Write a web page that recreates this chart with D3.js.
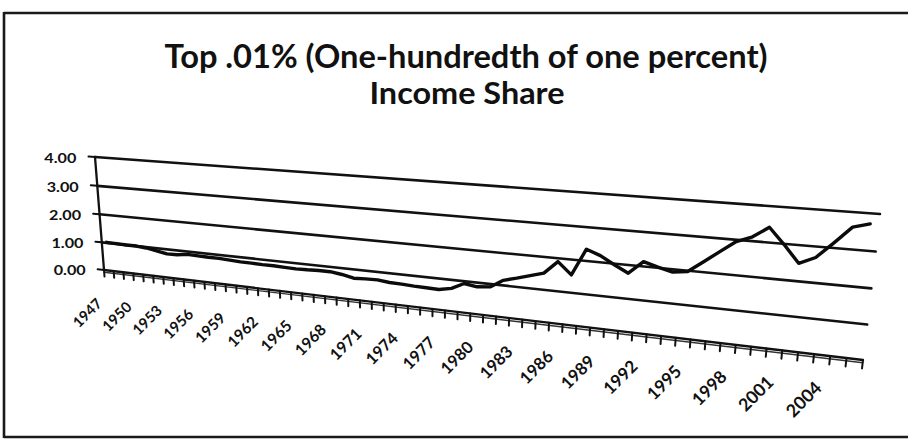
<!DOCTYPE html>
<html>
<head>
<meta charset="utf-8">
<script src="https://cdn.jsdelivr.net/npm/d3@7"></script>
<style>
  html, body { margin: 0; padding: 0; background: #ffffff; }
  svg { display: block; }
  text { font-family: Lato, "Open Sans", "DejaVu Sans", sans-serif; font-weight: 700; fill: #111; }
</style>
</head>
<body>
<svg id="chart" width="908" height="444"></svg>
<script>
// ---- data -------------------------------------------------------------
const years = [
  1947, 1948, 1949, 1950, 1951, 1952, 1953, 1954, 1955, 1956,
  1957, 1958, 1959, 1960, 1961, 1962, 1963, 1964, 1965, 1966,
  1967, 1968, 1969, 1970, 1971, 1972, 1973, 1974, 1975, 1976,
  1977, 1978, 1979, 1980, 1981, 1982, 1983, 1984, 1985, 1986,
  1987, 1988, 1989, 1990, 1991, 1992, 1993, 1994, 1995, 1996,
  1997, 1998, 1999, 2000, 2001, 2002, 2003, 2004, 2005, 2006
];

// income share of the top 0.01%, percent
const shareValues = [
  1.02, 1.01, 1.00, 1.00, 0.97, 0.91, 0.84, 0.85, 0.90, 0.89,
  0.88, 0.88, 0.86, 0.84, 0.84, 0.83, 0.83, 0.82, 0.81, 0.82,
  0.84, 0.84, 0.79, 0.71, 0.73, 0.74, 0.70, 0.69, 0.67, 0.66,
  0.65, 0.73, 0.93, 0.87, 0.91, 1.16, 1.27, 1.39, 1.51, 1.90,
  1.54, 2.35, 2.20, 1.97, 1.76, 2.14, 2.02, 1.92, 1.98, 2.30,
  2.63, 2.95, 3.12, 3.42, 2.98, 2.50, 2.70, 3.14, 3.60, 3.72
];

const yTickValues = [0, 1, 2, 3, 4];
const xLabelYears = [
  1947, 1950, 1953, 1956, 1959, 1962, 1965, 1968, 1971, 1974,
  1977, 1980, 1983, 1986, 1989, 1992, 1995, 1998, 2001, 2004
];
const titleLines = ["Top .01% (One-hundredth of one percent)", "Income Share"];

// ---- page setup ------------------------------------------------------
const svg = d3.select("#chart");
const ink = "#111111";

// The printed plot area is seen at an angle: its four corners on the page.
const plotCorners = {
  bottomLeft: [104, 270],
  bottomRight: [863, 360],
  topRight: [880, 214],
  topLeft: [95, 157]
};

// projective map from the unit square (u right, v up) to a quadrilateral
function squareToQuad(p0, p1, p2, p3) {
  const [x0, y0] = p0, [x1, y1] = p1, [x2, y2] = p2, [x3, y3] = p3;
  const sx = x0 - x1 + x2 - x3, sy = y0 - y1 + y2 - y3;
  const dx1 = x1 - x2, dx2 = x3 - x2, dy1 = y1 - y2, dy2 = y3 - y2;
  const den = dx1 * dy2 - dx2 * dy1;
  const g = (sx * dy2 - dx2 * sy) / den;
  const h = (dx1 * sy - sx * dy1) / den;
  return {
    a: x1 - x0 + g * x1, b: x3 - x0 + h * x3, c: x0,
    d: y1 - y0 + g * y1, e: y3 - y0 + h * y3, f: y0, g, h
  };
}
const M = squareToQuad(plotCorners.bottomLeft, plotCorners.bottomRight,
                       plotCorners.topRight, plotCorners.topLeft);
function project(u, v) {
  const w = M.g * u + M.h * v + 1;
  return [(M.a * u + M.b * v + M.c) / w, (M.d * u + M.e * v + M.f) / w];
}

// scales in plot-unit space
const x = d3.scaleBand().domain(years).range([0, 1]).padding(0);
const y = d3.scaleLinear().domain([0, 4]).range([0, 1]);
const xCenter = yr => x(yr) + x.bandwidth() / 2;

const segment = d3.line();

// ---- frame -----------------------------------------------------------
const frame = svg.append("g").attr("stroke", "#1a1a1a").attr("stroke-width", 2.6).attr("fill", "none");
frame.append("path").attr("d", "M4,13 H908");
frame.append("path").attr("d", "M4,12 V438");
frame.append("path").attr("d", "M4,437 H908");

// ---- title -----------------------------------------------------------
svg.append("text")
  .attr("x", 466).attr("y", 68)
  .attr("text-anchor", "middle")
  .attr("font-size", 32)
  .attr("textLength", 603).attr("lengthAdjust", "spacingAndGlyphs")
  .text(titleLines[0]);
svg.append("text")
  .attr("x", 467).attr("y", 104)
  .attr("text-anchor", "middle")
  .attr("font-size", 31)
  .attr("textLength", 195).attr("lengthAdjust", "spacingAndGlyphs")
  .text(titleLines[1]);

// ---- grid and axes ---------------------------------------------------
const plot = svg.append("g").attr("fill", "none").attr("stroke", ink).attr("stroke-linecap", "round");

// horizontal gridlines
plot.append("g").selectAll("path")
  .data(yTickValues.filter(t => t > 0))
  .join("path")
  .attr("stroke-width", 2.6)
  .attr("d", t => segment([project(0, y(t)), project(1, y(t))]));

// value axis with ticks
plot.append("path").attr("stroke-width", 2.3)
  .attr("d", segment([project(0, 0), project(0, 1)]));
plot.append("g").selectAll("path")
  .data(yTickValues)
  .join("path")
  .attr("stroke-width", 2)
  .attr("d", t => segment([project(-0.011, y(t)), project(0, y(t))]));

// category axis: doubled baseline with a tick at every category edge
plot.append("path").attr("stroke-width", 2.3)
  .attr("d", segment([project(0, 0), project(1, 0)]));
plot.append("path").attr("stroke-width", 1.4).attr("stroke", "#333")
  .attr("d", segment([project(0, -0.02), project(1, -0.02)]));
const edges = years.map(yr => x(yr)).concat([1]);
plot.append("g").selectAll("path")
  .data(edges)
  .join("path")
  .attr("stroke-width", 2)
  .attr("d", u => segment([project(u, 0), project(u, -0.06)]));

// ---- data line -------------------------------------------------------
const series = years.map((yr, i) => ({ year: yr, value: shareValues[i] }));
const shareLine = d3.line()
  .x(d => project(xCenter(d.year), y(d.value))[0])
  .y(d => project(xCenter(d.year), y(d.value))[1]);
svg.append("path")
  .datum(series)
  .attr("fill", "none")
  .attr("stroke", "#0b0b0b")
  .attr("stroke-width", 3.4)
  .attr("stroke-linejoin", "round")
  .attr("stroke-linecap", "round")
  .attr("d", shareLine);

// ---- tick labels -----------------------------------------------------
const fmt = d3.format(".2f");
svg.append("g").selectAll("text")
  .data(yTickValues)
  .join("text")
  .attr("text-anchor", "end")
  .attr("font-size", 14)
  .attr("textLength", 32).attr("lengthAdjust", "spacingAndGlyphs")
  .attr("dominant-baseline", "central")
  .attr("x", t => project(-0.03, y(t))[0] - 1)
  .attr("y", t => project(-0.03, y(t))[1] + 2)
  .text(t => fmt(t));

svg.append("g").selectAll("text")
  .data(xLabelYears)
  .join("text")
  .attr("text-anchor", "end")
  .attr("font-size", yr => 14.5 + 3.5 * xCenter(yr))
  .attr("transform", yr => {
    const u = xCenter(yr);
    const p = project(u, 0);
    return `translate(${p[0] - 6 + 7 * u},${p[1] + 34}) rotate(-45)`;
  })
  .text(yr => yr);
</script>
</body>
</html>
